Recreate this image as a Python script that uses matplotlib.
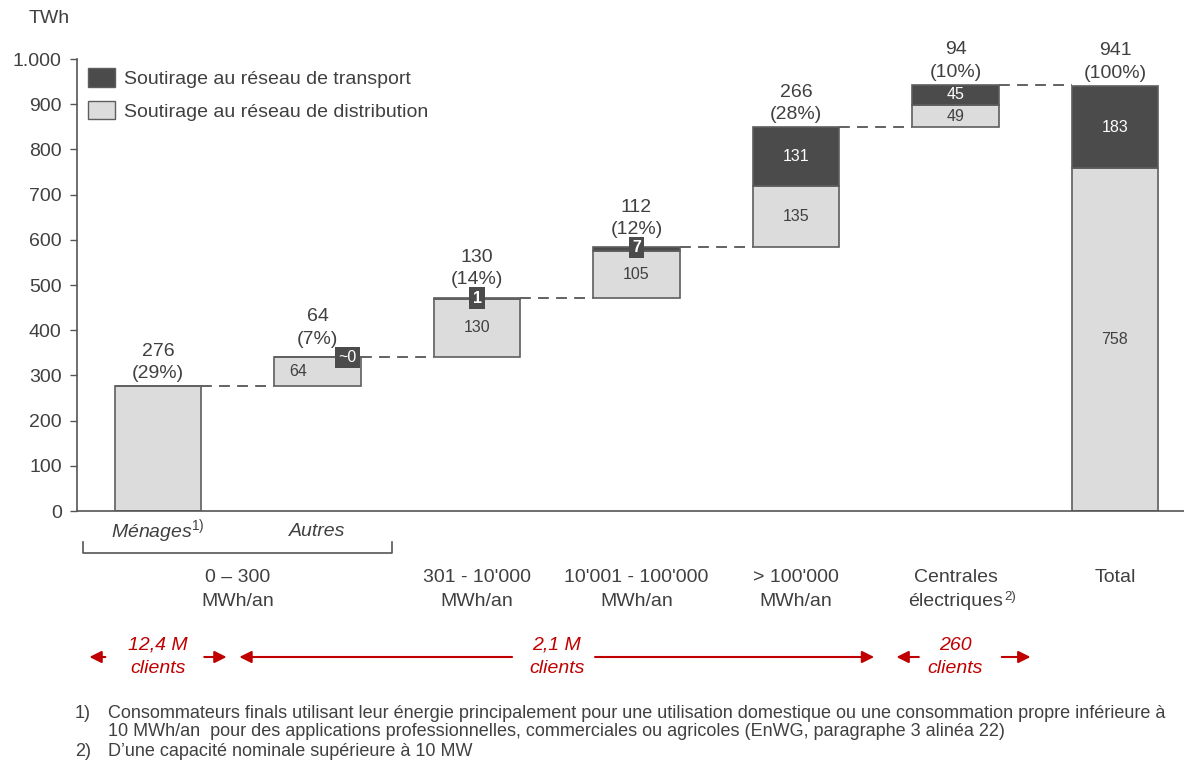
import numpy as np
import matplotlib
matplotlib.use('Agg')
import matplotlib.pyplot as plt
from matplotlib.patches import Patch
from matplotlib.transforms import blended_transform_factory
from matplotlib.ticker import FuncFormatter

plt.rcParams['font.family'] = ['Liberation Sans', 'DejaVu Sans']
plt.rcParams['mathtext.fontset'] = 'custom'
plt.rcParams['mathtext.rm'] = 'Liberation Sans'
plt.rcParams['mathtext.it'] = 'Liberation Sans:italic'

# data (TWh)
groups = ['0 – 300\nMWh/an', "301 - 10'000\nMWh/an", "10'001 - 100'000\nMWh/an",
          '> 100\'000\nMWh/an', 'Centrales\nélectriques', 'Total']
sub_labels = ['Ménages$^{\\mathit{1)}}$', 'Autres']
distribution = [276, 64, 130, 105, 135, 49, 758]
transport = [0, 0, 1, 7, 131, 45, 183]
totals = [276, 64, 130, 112, 266, 94, 941]
shares = [29, 7, 14, 12, 28, 10, 100]
transport_tags = ['', '~0', '1', '7', '', '', '']
clients = ['12,4 M\nclients', '2,1 M\nclients', '260\nclients']

dark = '#4b4b4b'
light = '#dcdcdc'
edge = '#5e5e5e'
txt = '#404040'
red = '#c00000'
fs = 14

n = len(distribution)
x = np.arange(n)
w = 0.545

# waterfall bottoms, last bar starts from zero
steps = np.array(distribution) + np.array(transport)
bottoms = np.concatenate(([0], np.cumsum(steps[:-2]), [0]))

fig = plt.figure(figsize=(11.84, 7.62), dpi=100)
ax = fig.add_axes([77/1184, 1-511/762, 1-77/1184, (511-59)/762])

ax.bar(x, distribution, w, bottom=bottoms, color=light, edgecolor=edge, linewidth=1.2, zorder=2)
ax.bar(x, transport, w, bottom=bottoms + np.array(distribution), color=dark,
       edgecolor=edge, linewidth=1.2, zorder=2)

# connectors between steps
tops = bottoms + steps
for i in range(n - 1):
    ax.plot([x[i] + w/2, x[i+1] - w/2], [tops[i], tops[i]], color='#555555',
            lw=1.3, dashes=(6, 4), zorder=1)

# totals and shares above bars
for i in range(n):
    off = 7 if transport_tags[i] else 3
    ax.annotate(f'{totals[i]}\n({shares[i]}%)', (x[i], tops[i]), xytext=(0, off),
                textcoords='offset points', ha='center', va='bottom', fontsize=fs,
                color=txt, linespacing=1.4, annotation_clip=False)

# segment values
for i in range(1, n):
    yd = bottoms[i] + distribution[i]/2
    xd = x[i] - 0.12 if i == 1 else x[i]
    ax.text(xd, yd, str(distribution[i]), ha='center', va='center', fontsize=11.5, color=txt)
    if transport_tags[i]:
        top = bottoms[i] + distribution[i] + transport[i]
        xt = x[i] + w/2 - 0.085 if i == 1 else x[i]
        ax.text(xt, top, transport_tags[i], ha='center', va='center', fontsize=11.5,
                color='white', fontweight='bold' if i > 1 else 'normal', zorder=4,
                bbox=dict(boxstyle='square,pad=0.2', fc=dark, ec='none'))
    elif transport[i] > 0:
        ax.text(x[i], bottoms[i] + distribution[i] + transport[i]/2, str(transport[i]),
                ha='center', va='center', fontsize=11.5, color='white')

ax.set_xlim(-81/159.5, 6 + 69/159.5)
ax.set_ylim(0, 1000)
ax.set_yticks(np.arange(0, 1001, 100))
ax.yaxis.set_major_formatter(FuncFormatter(lambda v, p: f'{int(v):,}'.replace(',', '.')))
ax.tick_params(axis='y', direction='out', length=5, width=1, color='#555555',
               labelsize=fs, labelcolor=txt, pad=6)
ax.tick_params(axis='x', bottom=False, labelbottom=False)
for s in ['top', 'right']:
    ax.spines[s].set_visible(False)
for s in ['left', 'bottom']:
    ax.spines[s].set_color('#555555')
    ax.spines[s].set_linewidth(1.2)
ax.text(-0.68, 1090, 'TWh', ha='center', va='center', fontsize=fs, color=txt, clip_on=False)

leg = ax.legend([Patch(fc=dark, ec=edge), Patch(fc=light, ec=edge)],
                ['Soutirage au réseau de transport', 'Soutirage au réseau de distribution'],
                loc='upper left', bbox_to_anchor=(88/1184, 1-68/762), bbox_transform=fig.transFigure,
                frameon=False, fontsize=fs, handlelength=1.4, handleheight=1.1, borderpad=0,
                borderaxespad=0, handletextpad=0.45, labelspacing=0.65, labelcolor=txt)

tr = blended_transform_factory(ax.transData, fig.transFigure)

# sub-category labels and bracket
for i, lab in enumerate(sub_labels):
    ax.text(x[i], 1-531/762, lab, transform=tr, ha='center', va='center', fontsize=fs,
            style='italic', color=txt)
bx0, bx1 = (83-158)/159.5, (392-158)/159.5
ax.plot([bx0, bx0, bx1, bx1], [1-542/762, 1-553/762, 1-553/762, 1-542/762], transform=tr,
        color='#555555', lw=1.2, clip_on=False)

# group labels
gx = [0.5, 2, 3, 4, 5, 6]
for g, lab in zip(gx, groups):
    ax.text(g, 1-569/762, lab, transform=tr, ha='center', va='top', fontsize=fs,
            color=txt, linespacing=1.5)
# footnote marker for power plants
ax.text(5.305, 1-597/762, '2)', transform=tr, ha='left', va='center', fontsize=9.5, color=txt)

# client counts with red arrows
ya = 1-657/762
cx = [0, 2.5, 5]
for c, lab in zip(cx, clients):
    ax.text(c, ya, lab, transform=tr, ha='center', va='center', fontsize=fs, color=red,
            style='italic', linespacing=1.5)
arrows = [(-0.33, -0.43), (0.29, 0.43), (2.22, 0.51), (2.74, 4.49), (4.77, 4.63), (5.29, 5.47)]
for tail, head in arrows:
    ax.annotate('', xy=(head, ya), xytext=(tail, ya), xycoords=tr, textcoords=tr,
                arrowprops=dict(arrowstyle='-|>', color=red, lw=1.5, mutation_scale=18,
                                shrinkA=0, shrinkB=0))

# footnotes
fn = dict(fontsize=13, color=txt)
fig.text(75/1184, 1-713/762, '1)', va='center', **fn)
fig.text(108/1184, 1-713/762, 'Consommateurs finals utilisant leur énergie principalement pour une '
         'utilisation domestique ou une consommation propre inférieure à', va='center', **fn)
fig.text(108/1184, 1-732/762, '10 MWh/an  pour des applications professionnelles, commerciales ou '
         'agricoles (EnWG, paragraphe 3 alinéa 22)', va='center', **fn)
fig.text(75/1184, 1-751/762, '2)', va='center', **fn)
fig.text(108/1184, 1-751/762, 'D’une capacité nominale supérieure à 10 MW', va='center', **fn)

fig.savefig('out.png', dpi=100)
